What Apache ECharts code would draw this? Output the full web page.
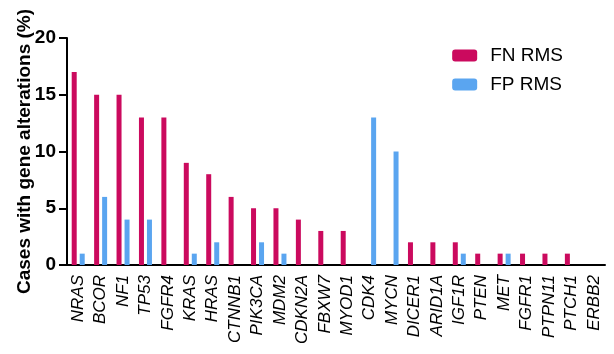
<!DOCTYPE html>
<html>
<head>
<meta charset="utf-8">
<script src="https://cdn.jsdelivr.net/npm/echarts@6/dist/echarts.min.js"></script>
<style>
  html, body { margin: 0; padding: 0; background: #fff; }
  #chart { width: 614px; height: 354px; }
</style>
</head>
<body>
<div id="chart"></div>
<script>
// genes, in the order they appear on the x axis
var genes = ['NRAS', 'BCOR', 'NF1', 'TP53', 'FGFR4', 'KRAS', 'HRAS', 'CTNNB1', 'PIK3CA', 'MDM2',
  'CDKN2A', 'FBXW7', 'MYOD1', 'CDK4', 'MYCN', 'DICER1', 'ARID1A', 'IGF1R', 'PTEN', 'MET',
  'FGFR1', 'PTPN11', 'PTCH1', 'ERBB2']
var fnRms = [17, 15, 15, 13, 13, 9, 8, 6, 5, 5, 4, 3, 3, 0, 0, 2, 2, 2, 1, 1, 1, 1, 1, 0]
var fpRms = [1, 6, 4, 4, 0, 1, 2, 0, 2, 1, 0, 0, 0, 13, 10, 0, 0, 1, 0, 1, 0, 0, 0, 0]
var yTicks = [0, 5, 10, 15, 20]

var chartDom = document.getElementById('chart')
var myChart = echarts.init(chartDom)
var font = 'Liberation Sans, Arial, sans-serif'

var option = {
  animation: false,
  textStyle: { fontFamily: font },
  legend: {
    orient: 'vertical',
    right: 46,
    top: 41,
    itemWidth: 25,
    itemHeight: 12,
    itemGap: 10,
    textStyle: { fontSize: 19, color: '#000', fontFamily: font, padding: [0, 0, 0, 8] },
    data: ['FN RMS', 'FP RMS']
  },
  grid: { left: 67, right: 9, top: 38, bottom: 89 },
  xAxis: {
    type: 'category',
    data: genes,
    axisLine: { lineStyle: { color: '#000', width: 2 } },
    axisTick: { alignWithLabel: true, length: 7, lineStyle: { color: '#000', width: 2 } },
    axisLabel: {
      rotate: 90,
      interval: 0,
      margin: 10,
      fontSize: 17,
      fontStyle: 'italic',
      color: '#000',
      fontFamily: font
    }
  },
  yAxis: {
    type: 'value',
    min: yTicks[0],
    max: yTicks[yTicks.length - 1],
    interval: 5,
    name: 'Cases with gene alterations (%)',
    nameLocation: 'middle',
    nameGap: 33,
    nameMoveOverlap: false,
    nameTextStyle: { fontSize: 19, fontWeight: 'bold', color: '#000', fontFamily: font },
    splitLine: { show: false },
    axisLine: { show: true, lineStyle: { color: '#000', width: 2 } },
    axisTick: { show: true, length: 8, lineStyle: { color: '#000', width: 2 } },
    axisLabel: { fontSize: 19, fontWeight: 'bold', color: '#000', margin: 11, fontFamily: font }
  },
  series: [
    {
      name: 'FN RMS',
      type: 'bar',
      data: fnRms,
      barWidth: 5,
      barGap: '60%',
      itemStyle: { color: '#CB0A5E' }
    },
    {
      name: 'FP RMS',
      type: 'bar',
      data: fpRms,
      barWidth: 5,
      itemStyle: { color: '#5AA5F0' }
    }
  ]
}

option && myChart.setOption(option)
</script>
</body>
</html>
